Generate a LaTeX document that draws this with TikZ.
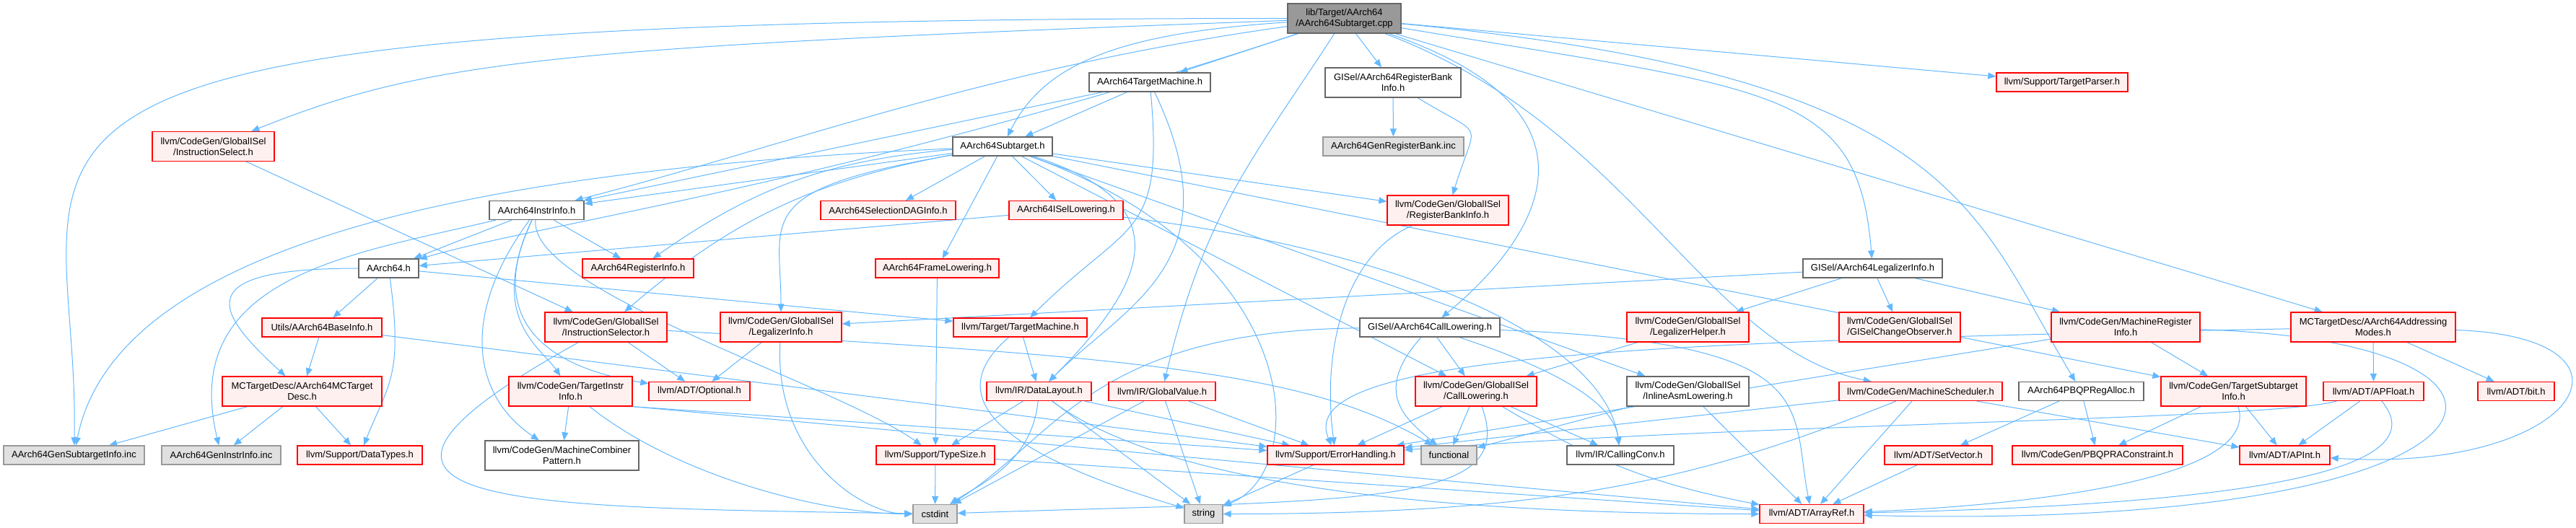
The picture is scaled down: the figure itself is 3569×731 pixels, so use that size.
\documentclass[tikz,border=0pt]{standalone}
\usepackage{fontspec}
\setmainfont{Liberation Sans}
\usepackage{xcolor}
\definecolor{dxblue}{RGB}{99,184,255}
\definecolor{dxred}{RGB}{255,0,0}
\definecolor{dxpink}{RGB}{255,240,240}
\definecolor{dxgray}{RGB}{102,102,102}
\definecolor{dxroot}{RGB}{153,153,153}
\definecolor{dxext}{RGB}{224,224,224}
\usetikzlibrary{arrows.meta,backgrounds}

\begin{document}
\begin{tikzpicture}[
  x=1pt,y=1pt,
  every node/.style={font=\fontsize{13}{15}\selectfont,align=center,inner sep=1pt},
  filebox/.style={draw=dxgray,fill=white,line width=1.3pt,minimum height=26pt},
  redbox/.style={filebox,draw=dxred,fill=dxpink},
  extbox/.style={filebox,draw=dxroot,fill=dxext},
  rootbox/.style={filebox,fill=dxroot},
  tall/.style={minimum height=41pt},
  incl/.style={draw=dxblue,line width=1pt,-{Triangle[length=11pt,width=9pt]}},
]
  \useasboundingbox (0,0) rectangle (3569,-731);

  % Root file and first level
  \node[rootbox,tall,minimum width=157] (root) at (1862.5,-25.5) {lib/Target/AArch64\\/AArch64Subtarget.cpp};
  \node[redbox,tall,minimum width=169] (instsel) at (295.5,-203) {llvm/CodeGen/GlobalISel\\/InstructionSelect.h};
  \node[filebox,minimum width=168] (tm) at (1593,-114) {AArch64TargetMachine.h};
  \node[filebox,tall,minimum width=188] (rbi) at (1930,-114.5) {GISel/AArch64RegisterBank\\Info.h};
  \node[redbox,minimum width=182] (tparser) at (2857,-114) {llvm/Support/TargetParser.h};
  \node[filebox,minimum width=138] (sub) at (1389,-203) {AArch64Subtarget.h};
  \node[extbox,minimum width=195] (genrb) at (1930.5,-203) {AArch64GenRegisterBank.inc};

  % Target headers
  \node[filebox,minimum width=131] (instrinfo) at (743.5,-291.5) {AArch64InstrInfo.h};
  \node[redbox,minimum width=187] (sdag) at (1230.5,-291.5) {AArch64SelectionDAGInfo.h};
  \node[redbox,minimum width=158] (isel) at (1477,-291.5) {AArch64ISelLowering.h};
  \node[redbox,tall,minimum width=168] (regbank) at (2006,-291.5) {llvm/CodeGen/GlobalISel\\/RegisterBankInfo.h};
  \node[filebox,minimum width=83] (aarch64) at (538.5,-372) {AArch64.h};
  \node[redbox,minimum width=154] (reginfo) at (884,-372) {AArch64RegisterInfo.h};
  \node[redbox,minimum width=171] (frame) at (1298.5,-372) {AArch64FrameLowering.h};
  \node[filebox,minimum width=193] (legal) at (2594.5,-372) {GISel/AArch64LegalizerInfo.h};

  % Middle row
  \node[redbox,minimum width=166] (baseinfo) at (446,-454) {Utils/AArch64BaseInfo.h};
  \node[redbox,tall,minimum width=169] (isr) at (839.5,-453.5) {llvm/CodeGen/GlobalISel\\/InstructionSelector.h};
  \node[redbox,tall,minimum width=168] (li) at (1082,-453.5) {llvm/CodeGen/GlobalISel\\/LegalizerInfo.h};
  \node[redbox,minimum width=185] (ttm) at (1413.5,-454) {llvm/Target/TargetMachine.h};
  \node[filebox,minimum width=194] (calllow) at (1981,-454) {GISel/AArch64CallLowering.h};
  \node[redbox,tall,minimum width=169] (lhelper) at (2338.5,-453.5) {llvm/CodeGen/GlobalISel\\/LegalizerHelper.h};
  \node[redbox,tall,minimum width=168] (obs) at (2632,-453.5) {llvm/CodeGen/GlobalISel\\/GISelChangeObserver.h};
  \node[redbox,tall,minimum width=206] (mri) at (2945,-453.5) {llvm/CodeGen/MachineRegister\\Info.h};
  \node[redbox,tall,minimum width=228] (addr) at (3288,-453.5) {MCTargetDesc/AArch64Addressing\\Modes.h};

  \node[redbox,tall,minimum width=221] (mctd) at (418.5,-542.5) {MCTargetDesc/AArch64MCTarget\\Desc.h};
  \node[redbox,tall,minimum width=171] (tii) at (790.5,-542.5) {llvm/CodeGen/TargetInstr\\Info.h};
  \node[redbox,minimum width=140] (opt) at (969,-542.5) {llvm/ADT/Optional.h};
  \node[redbox,minimum width=145] (dl) at (1439.5,-542.5) {llvm/IR/DataLayout.h};
  \node[redbox,minimum width=148] (gv) at (1610,-542.5) {llvm/IR/GlobalValue.h};
  \node[redbox,tall,minimum width=168] (cl) at (2045,-542.5) {llvm/CodeGen/GlobalISel\\/CallLowering.h};
  \node[filebox,tall,minimum width=169] (ial) at (2338.5,-542.5) {llvm/CodeGen/GlobalISel\\/InlineAsmLowering.h};
  \node[redbox,minimum width=226] (msched) at (2661,-542.5) {llvm/CodeGen/MachineScheduler.h};
  \node[filebox,minimum width=173] (pbqp) at (2883.5,-542.5) {AArch64PBQPRegAlloc.h};
  \node[redbox,tall,minimum width=201] (tsi) at (3094.5,-542.5) {llvm/CodeGen/TargetSubtarget\\Info.h};
  \node[redbox,minimum width=139] (apfloat) at (3288.5,-542.5) {llvm/ADT/APFloat.h};
  \node[redbox,minimum width=106] (bit) at (3486,-542.5) {llvm/ADT/bit.h};

  % Leaves
  \node[extbox,minimum width=195] (gensub) at (102.5,-631) {AArch64GenSubtargetInfo.inc};
  \node[extbox,minimum width=165] (geninstr) at (306.5,-631) {AArch64GenInstrInfo.inc};
  \node[redbox,minimum width=173] (dtypes) at (498.5,-631) {llvm/Support/DataTypes.h};
  \node[filebox,tall,minimum width=213] (mcp) at (778.5,-631.5) {llvm/CodeGen/MachineCombiner\\Pattern.h};
  \node[redbox,minimum width=164] (typesize) at (1296,-631) {llvm/Support/TypeSize.h};
  \node[redbox,minimum width=189] (err) at (1850.5,-631) {llvm/Support/ErrorHandling.h};
  \node[extbox,minimum width=77] (func) at (2007.5,-631) {functional};
  \node[filebox,minimum width=148] (cconv) at (2245,-631) {llvm/IR/CallingConv.h};
  \node[redbox,minimum width=149] (setvec) at (2685.5,-631) {llvm/ADT/SetVector.h};
  \node[redbox,minimum width=236] (pbqprac) at (2906,-631) {llvm/CodeGen/PBQPRAConstraint.h};
  \node[redbox,minimum width=125] (apint) at (3165.5,-631) {llvm/ADT/APInt.h};
  \node[extbox,minimum width=61] (cstdint) at (1295.5,-712.5) {cstdint};
  \node[extbox,minimum width=53] (string) at (1667.5,-712.5) {string};
  \node[redbox,minimum width=144] (arrayref) at (2510,-712.5) {llvm/ADT/ArrayRef.h};

  \begin{pgfonlayer}{background}
  \fill[white] (0,0) rectangle (3569,-731);

  % Includes of the .cpp
  \draw[incl] (root) .. controls +(-300,-20) and +(60,120) .. (sub);
  \draw[incl] (root) -- (tm);
  \draw[incl] (root) -- (rbi);
  \draw[incl] (root) -- (tparser);
  \draw[incl] (root) .. controls +(-1100,-40) and +(300,120) .. (instsel);
  \draw[incl] (root) .. controls +(-2050,0) and +(10,470) .. (gensub);
  \draw[incl] (root) .. controls +(-500,-70) and +(350,90) .. (instrinfo);
  \draw[incl] (root) .. controls +(-700,-230) and +(200,60) .. (aarch64);
  \draw[incl] (root) .. controls +(-130,-200) and +(60,250) .. (gv);
  \draw[incl] (root) .. controls +(350,-120) and +(180,150) .. (calllow);
  \draw[incl] (root) .. controls +(600,-100) and +(-20,250) .. (legal);
  \draw[incl] (root) .. controls +(850,-80) and +(-150,250) .. (pbqp);
  \draw[incl] (root) .. controls +(400,-150) and +(-300,60) .. (msched);
  \draw[incl] (root) -- (addr);

  % AArch64Subtarget.h
  \draw[incl] (sub) -- (instrinfo);
  \draw[incl] (sub) -- (sdag);
  \draw[incl] (sub) -- (isel);
  \draw[incl] (sub) -- (frame);
  \draw[incl] (sub) to[bend right=15] (reginfo);
  \draw[incl] (sub) to[bend right=15] (isr);
  \draw[incl] (sub) .. controls +(-350,-60) and +(0,150) .. (li);
  \draw[incl] (sub) -- (regbank);
  \draw[incl] (sub) -- (cl);
  \draw[incl] (sub) -- (ial);
  \draw[incl] (sub) -- (tsi);
  \draw[incl] (sub) .. controls +(250,-80) and +(150,150) .. (dl);
  \draw[incl] (sub) .. controls +(420,-150) and +(150,60) .. (string);
  \draw[incl] (sub) .. controls +(-700,-30) and +(60,300) .. (gensub);

  % AArch64TargetMachine.h, register bank
  \draw[incl] (tm) -- (sub);
  \draw[incl] (tm) -- (instrinfo);
  \draw[incl] (tm) .. controls +(20,-220) and +(150,150) .. (ttm);
  \draw[incl] (tm) .. controls +(120,-250) and +(120,120) .. (dl);
  \draw[incl] (rbi) -- (genrb);
  \draw[incl] (rbi) .. controls +(130,-80) and +(40,130) .. (regbank);

  % AArch64InstrInfo.h
  \draw[incl] (instrinfo) -- (aarch64);
  \draw[incl] (instrinfo) -- (reginfo);
  \draw[incl] (instrinfo) .. controls +(-82,-171) and +(-181,28) .. (opt);
  \draw[incl] (instrinfo) .. controls +(-110,-150) and +(-120,80) .. (mcp);
  \draw[incl] (instrinfo) .. controls +(-70,-150) and +(-40,60) .. (tii);
  \draw[incl] (instrinfo) .. controls +(-12,-111) and +(-141,100) .. (typesize);
  \draw[incl] (instrinfo) .. controls +(-250,-60) and +(-60,250) .. (geninstr);

  % AArch64.h and MC layer
  \draw[incl] (aarch64) .. controls +(-280,0) and +(-120,110) .. (mctd);
  \draw[incl] (aarch64) -- (baseinfo);
  \draw[incl] (aarch64) .. controls +(20,-150) and +(40,100) .. (dtypes);
  \draw[incl] (aarch64) -- (ttm);
  \draw[incl] (baseinfo) -- (mctd);
  \draw[incl] (baseinfo) -- (err);
  \draw[incl] (mctd) -- (gensub);
  \draw[incl] (mctd) -- (geninstr);
  \draw[incl] (mctd) -- (dtypes);
  \draw[incl] (isel) -- (aarch64);
  \draw[incl] (isel) .. controls +(500,-60) and +(-20,150) .. (cconv);
  \draw[incl] (frame) -- (typesize);
  \draw[incl] (regbank) .. controls +(-140,-60) and +(-20,150) .. (err);
  \draw[incl] (instsel) -- (isr);

  % GlobalISel headers
  \draw[incl] (isr) -- (opt);
  \draw[incl] (isr) .. controls +(-450,-250) and +(-600,10) .. (cstdint);
  \draw[incl] (isr) .. controls +(700,-40) and +(-200,120) .. (func);
  \draw[incl] (li) -- (opt);
  \draw[incl] (li) .. controls +(-10,-180) and +(-100,0) .. (cstdint);
  \draw[incl] (legal) -- (lhelper);
  \draw[incl] (legal) -- (obs);
  \draw[incl] (legal) -- (mri);
  \draw[incl] (legal) -- (li);
  \draw[incl] (lhelper) -- (cl);
  \draw[incl] (calllow) -- (cl);
  \draw[incl] (calllow) .. controls +(-80,-90) and +(-60,50) .. (func);
  \draw[incl] (calllow) .. controls +(150,-50) and +(-10,80) .. (cconv);
  \draw[incl] (calllow) .. controls +(-469,-4) and +(167,104) .. (cstdint);
  \draw[incl] (calllow) .. controls +(550,-20) and +(-30,150) .. (arrayref);
  \draw[incl] (cl) -- (err);
  \draw[incl] (cl) -- (func);
  \draw[incl] (cl) -- (cconv);
  \draw[incl] (cl) .. controls +(60,-160) and +(600,20) .. (cstdint);
  \draw[incl] (cl) to[bend right=10] (arrayref);
  \draw[incl] (ial) -- (func);
  \draw[incl] (ial) -- (arrayref);

  % IR and Target
  \draw[incl] (ttm) -- (dl);
  \draw[incl] (ttm) .. controls +(-140,-120) and +(-200,60) .. (string);
  \draw[incl] (dl) -- (typesize);
  \draw[incl] (dl) .. controls +(-10,-100) and +(60,40) .. (cstdint);
  \draw[incl] (dl) -- (string);
  \draw[incl] (dl) -- (err);
  \draw[incl] (dl) .. controls +(200,-150) and +(-400,0) .. (arrayref);
  \draw[incl] (gv) -- (cstdint);
  \draw[incl] (gv) -- (string);
  \draw[incl] (gv) -- (err);

  % Right side
  \draw[incl] (mri) -- (tsi);
  \draw[incl] (mri) .. controls +(647,-20) and +(1004,-25) .. (arrayref);
  \draw[incl] (mri) -- (err);
  \draw[incl] (addr) -- (apfloat);
  \draw[incl] (addr) -- (bit);
  \draw[incl] (addr) .. controls +(398,-14) and +(408,-25) .. (apint);
  \draw[incl] (addr) .. controls +(-1000,-20) and +(-60,140) .. (err);
  \draw[incl] (tsi) -- (apint);
  \draw[incl] (tsi) .. controls +(40,-130) and +(250,10) .. (arrayref);
  \draw[incl] (tsi) -- (pbqprac);
  \draw[incl] (apfloat) -- (apint);
  \draw[incl] (apfloat) .. controls +(98,-118) and +(551,12) .. (arrayref);
  \draw[incl] (apfloat) .. controls +(-150,-40) and +(600,45) .. (err);
  \draw[incl] (msched) -- (arrayref);
  \draw[incl] (msched) -- (err);
  \draw[incl] (msched) .. controls +(-300,-120) and +(500,0) .. (string);
  \draw[incl] (msched) -- (apint);
  \draw[incl] (pbqp) -- (setvec);
  \draw[incl] (pbqp) -- (pbqprac);
  \draw[incl] (setvec) -- (arrayref);

  % Support leaves
  \draw[incl] (typesize) -- (cstdint);
  \draw[incl] (typesize) -- (arrayref);
  \draw[incl] (tii) -- (mcp);
  \draw[incl] (tii.south east) -- (err);
  \draw[incl] (tii.south east) -- (arrayref);
  \draw[incl] (tii) .. controls +(150,-120) and +(-150,0) .. (cstdint);
  \draw[incl] (err) -- (string);
  \end{pgfonlayer}
\end{tikzpicture}
\end{document}
